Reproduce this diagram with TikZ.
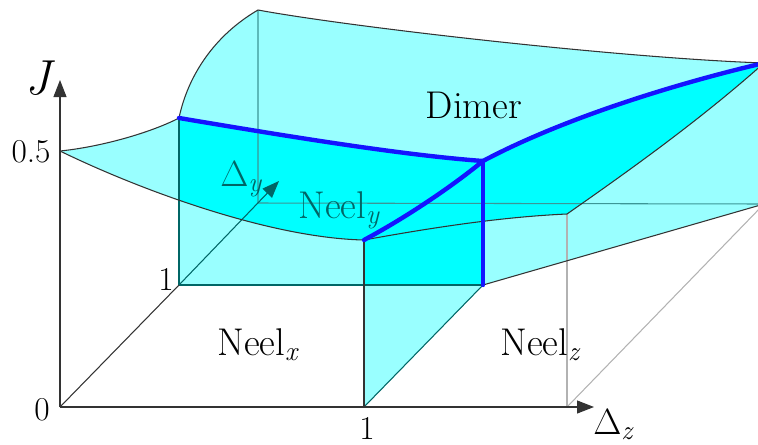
\documentclass[tikz,border=0pt]{standalone}
\usepackage{fontspec}
\usetikzlibrary{arrows.meta}

\definecolor{cyanlight}{RGB}{153,255,255}
\definecolor{cyanfull}{RGB}{0,255,255}
\definecolor{phaseblue}{RGB}{20,20,255}
\definecolor{seethrough}{RGB}{0,102,102}
\definecolor{hiddenline}{RGB}{60,150,150}

\begin{document}
\begin{tikzpicture}[x=0.02cm,y=-0.02cm,
  edge/.style={black!80,line width=0.6pt},
  inner/.style={seethrough,line width=0.6pt},
  hidden/.style={hiddenline,line width=0.6pt},
  backline/.style={gray!60,line width=0.6pt},
  boundary/.style={phaseblue,line width=2.5pt,line cap=round},
  tip/.style={-{Triangle[length=0.34cm,width=0.26cm]}},
  phase/.style={font=\fontsize{22}{26}\selectfont,inner sep=0pt},
  tick/.style={font=\fontsize{19}{22}\selectfont,inner sep=0pt}]
\useasboundingbox (0,0) rectangle (758,444);
\clip (0,0) rectangle (758,444);

% Floor and axis points
\coordinate (O) at (60,407);
\coordinate (Jtip) at (60,80);
\coordinate (Ztip) at (594,407);
\coordinate (Y1) at (179,285);
\coordinate (Ytip) at (279,181);
\coordinate (Z1) at (364,407);
\coordinate (Zend) at (567,407);
\coordinate (G) at (483,285);
\coordinate (K) at (764,204);
\coordinate (Cb) at (258,203);

% Points on the critical surface
\coordinate (A) at (60,151);
\coordinate (B) at (179,118);
\coordinate (C) at (258,10);
\coordinate (D) at (764,63);
\coordinate (E) at (483,161);
\coordinate (F) at (364,240);
\coordinate (H) at (567,214);

% Outlines of the surface and of the three walls
\def\surface{(A) .. controls (100,147) and (150,133) .. (B)
  .. controls (188,75) and (215,35) .. (C)
  .. controls (350,27) and (620,58) .. (D)
  .. controls (700,120) and (630,170) .. (H)
  .. controls (500,217) and (430,228) .. (F)
  .. controls (270,238) and (140,190) .. (A) -- cycle}
\def\wallY{(Y1) -- (G) -- (E) .. controls (400,155) and (280,135) .. (B) -- cycle}
\def\wallZ{(Z1) -- (G) -- (E) .. controls (450,188) and (405,218) .. (F) -- cycle}
\def\wallD{(G) -- (K) -- (D) .. controls (670,85) and (560,120) .. (E) -- cycle}

% Light fills
\fill[cyanlight] \surface;
\fill[cyanlight] \wallY;
\fill[cyanlight] \wallZ;
\fill[cyanlight] \wallD;

% Where two sheets overlap the colour is full cyan
\begin{scope}
  \clip \wallY;
  \fill[cyanfull] \surface;
\end{scope}
\begin{scope}
  \clip \wallZ;
  \fill[cyanfull] \surface;
  \fill[cyanfull] \wallY;
\end{scope}
\begin{scope}
  \clip \wallD;
  \fill[cyanfull] \surface;
\end{scope}

% Hidden edges seen through the sheets
\draw[hidden] (C) -- (Cb) -- (K);
\draw[inner,tip] (Y1) -- (Ytip);
\draw[inner] (Y1) -- (B);
\draw[inner] (Y1) -- (G);
\draw[inner] (Z1) -- (G);
\draw[backline] (Zend) -- (H);
\draw[backline] (Zend) -- (K);

% Edges of the surface
\draw[edge] (A) .. controls (100,147) and (150,133) .. (B)
  .. controls (188,75) and (215,35) .. (C)
  .. controls (350,27) and (620,58) .. (D);
\draw[edge] (A) .. controls (140,190) and (270,238) .. (F)
  .. controls (430,228) and (500,217) .. (H)
  .. controls (630,170) and (700,120) .. (D);
\draw[edge] (Z1) -- (F);
\draw[edge] (G) -- (K);

% Axes
\draw[edge,tip] (O) -- (Jtip);
\draw[edge,tip] (O) -- (Ztip);
\draw[edge] (O) -- (Y1);

% Phase boundaries
\draw[boundary] (B) .. controls (280,135) and (400,155) .. (E);
\draw[boundary] (E) .. controls (560,120) and (670,85) .. (D);
\draw[boundary] (E) .. controls (450,188) and (405,218) .. (F);
\draw[boundary] (E) -- (G);

% Labels
\node[tick] (lJ) at (40,78) {\fontsize{28}{32}\selectfont\textit{J}};
\node[tick,anchor=base] (lhalf) at (31,162) {0.5};
\node[tick,anchor=base] (lzero) at (42,420) {0};
\node[tick,anchor=base] (lyone) at (166,290) {1};
\node[tick,anchor=base] (lzone) at (367,439) {1};
\node[phase,anchor=base west,text=seethrough] (ldy) at (220,186) {$\Delta$\textsubscript{\textit{y}}};
\node[phase,anchor=base west] (ldz) at (593,434) {$\Delta$\textsubscript{\textit{z}}};
\node[phase,anchor=base] (ldimer) at (474,118) {Dimer};
\node[phase,anchor=base west] (lnx) at (217,355) {Neel\textsubscript{\textit{x}}};
\node[phase,anchor=base west] (lnz) at (500,355) {Neel\textsubscript{\textit{z}}};
\node[phase,anchor=base west,text=seethrough] (lny) at (298,218) {Neel\textsubscript{\textit{y}}};
\end{tikzpicture}
\end{document}
